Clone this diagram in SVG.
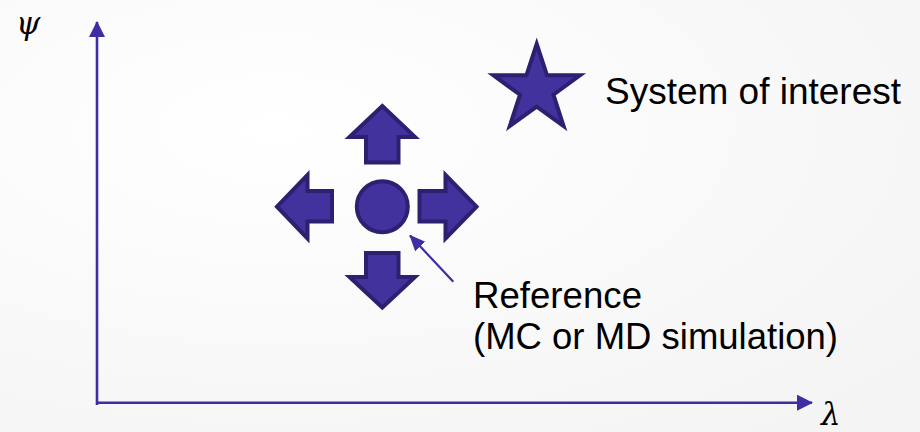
<svg xmlns="http://www.w3.org/2000/svg" width="920" height="432" viewBox="0 0 920 432">
  <defs>
    <radialGradient id="bg" cx="0.3" cy="0.3" r="0.9">
      <stop offset="0" stop-color="#ffffff"/>
      <stop offset="1" stop-color="#f4f4f4"/>
    </radialGradient>
    <marker id="axisHead" viewBox="0 0 16 16" refX="15" refY="8" markerWidth="16" markerHeight="16" markerUnits="userSpaceOnUse" orient="auto">
      <path d="M0,0 L16,8 L0,16 Z" fill="#3d2ea3"/>
    </marker>
    <marker id="ptrHead" viewBox="0 0 16 16" refX="15" refY="8" markerWidth="16" markerHeight="16" markerUnits="userSpaceOnUse" orient="auto">
      <path d="M0,1 L16,8 L0,15 Z" fill="#3d2ea3"/>
    </marker>
    <style>
      .shape { fill: #41329d; stroke: #2d2070; stroke-width: 4; stroke-linejoin: miter; }
      .axis { stroke: #3d2ea3; stroke-width: 2.6; fill: none; }
      .ptr { stroke: #3d2ea3; stroke-width: 2.2; fill: none; }
      .label { font-family: "Liberation Sans", Arial, sans-serif; font-size: 36.5px; fill: #000; }
      .sym { font-family: "DejaVu Serif", "Liberation Serif", serif; font-style: italic; font-size: 31px; fill: #000; }
    </style>
  </defs>

  <rect width="920" height="432" fill="url(#bg)"/>

  <!-- axes -->
  <g id="axes">
    <line class="axis" x1="97" y1="405" x2="97" y2="22" marker-end="url(#axisHead)"/>
    <line class="axis" x1="96" y1="402.7" x2="812" y2="402.7" marker-end="url(#axisHead)"/>
    <text class="sym" x="16" y="34">ψ</text>
    <text class="sym" x="821" y="425">λ</text>
  </g>

  <!-- reference state with displacement arrows -->
  <g id="reference">
    <circle class="shape" cx="382.3" cy="206.7" r="25.5"/>
    <path id="arrow-up" class="shape" d="M382.3,106 L415,137 L398.5,137 L398.5,162.5 L366,162.5 L366,137 L349.5,137 Z"/>
    <path id="arrow-down" class="shape" d="M382.3,307.5 L415,277 L398.5,277 L398.5,253 L366,253 L366,277 L349.5,277 Z"/>
    <path id="arrow-left" class="shape" d="M277,206.7 L307.5,175 L307.5,191 L332,191 L332,221.5 L307.5,221.5 L307.5,238.5 Z"/>
    <path id="arrow-right" class="shape" d="M476.5,206.7 L445.5,175 L445.5,191 L419.5,191 L419.5,221.5 L445.5,221.5 L445.5,238.5 Z"/>
  </g>

  <!-- system of interest -->
  <g id="system">
    <path class="shape" d="M536.7,44 L547,75.3 L580,75.3 L553.4,94.7 L563.6,126 L536.7,106.7 L509.8,126 L520,94.7 L493.4,75.3 L526.4,75.3 Z"/>
    <text class="label" x="605" y="103.5" textLength="296" lengthAdjust="spacingAndGlyphs">System of interest</text>
  </g>

  <!-- connectors -->
  <g id="connectors">
    <line class="ptr" x1="453.3" y1="281.7" x2="410" y2="235.5" marker-end="url(#ptrHead)"/>
  </g>

  <g id="reference-label">
    <text class="label" x="473" y="308" textLength="169" lengthAdjust="spacingAndGlyphs">Reference</text>
    <text class="label" x="473" y="348.5" textLength="365" lengthAdjust="spacingAndGlyphs">(MC or MD simulation)</text>
  </g>
</svg>
